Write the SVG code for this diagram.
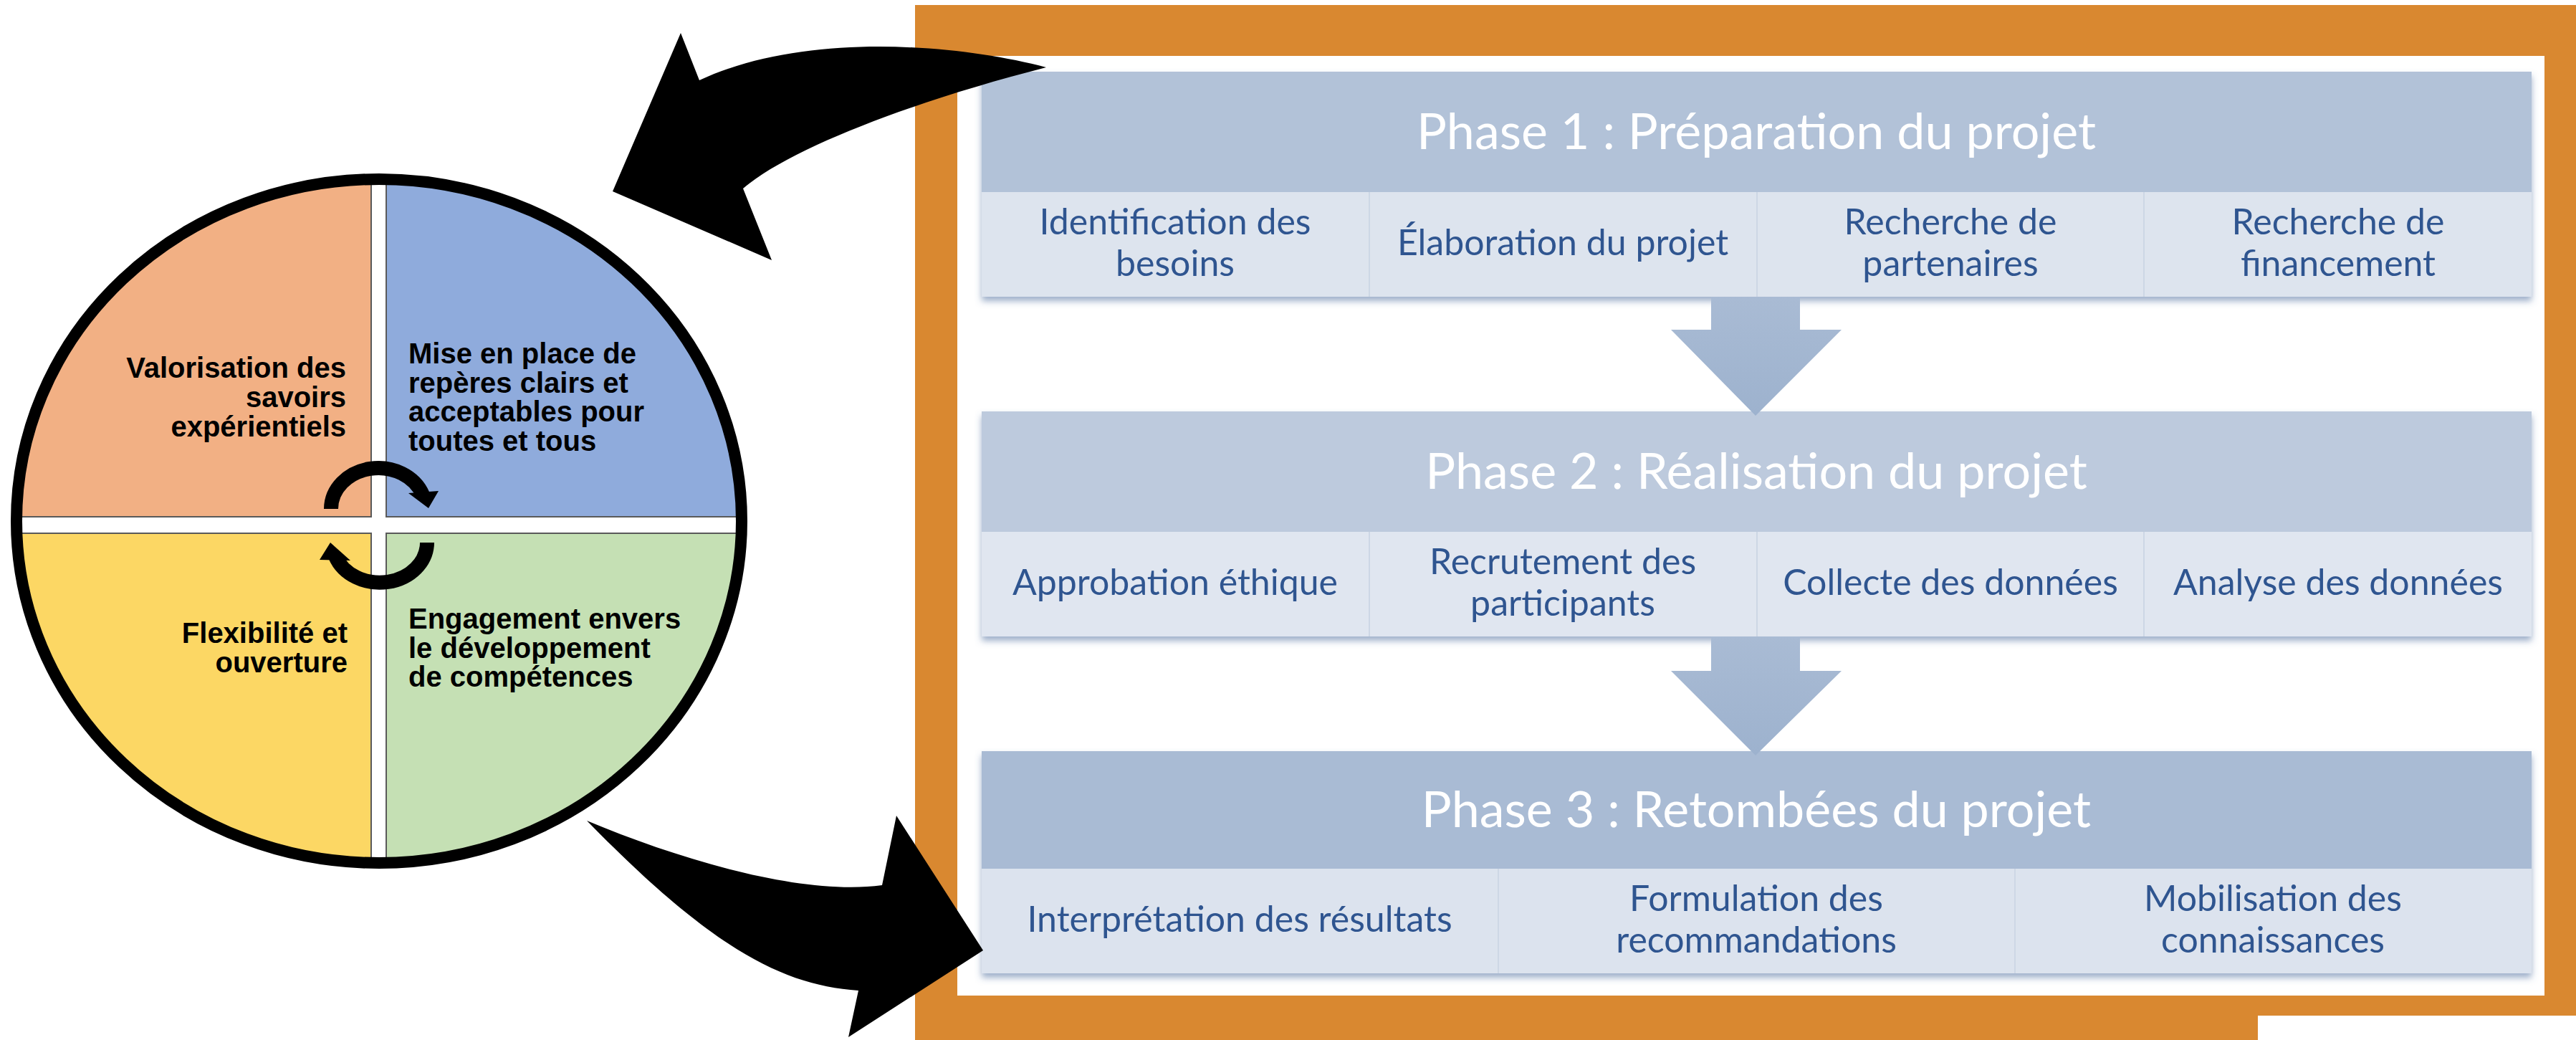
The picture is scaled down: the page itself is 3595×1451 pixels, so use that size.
<svg xmlns="http://www.w3.org/2000/svg" width="3595" height="1451" viewBox="0 0 3595 1451">
<defs>
<style>
.q{font-family:"Liberation Sans",Arial,sans-serif;font-weight:bold;font-size:40px;fill:#000}
.qe{text-anchor:end}
.t{font-family:Lato,"Liberation Sans",sans-serif;font-size:70px;fill:#fff;text-anchor:middle}
.s{font-family:Lato,"Liberation Sans",sans-serif;font-size:50px;fill:#2F5590;text-anchor:middle}
.sep{stroke:#CDD7E5;stroke-width:2}
.qr{stroke:#5a5a5a;stroke-width:2}
.arc{fill:none;stroke:#000;stroke-width:20}
</style>
<clipPath id="ell"><ellipse cx="529" cy="727" rx="506" ry="477"/></clipPath>
<filter id="sh" x="-3%" y="-20%" width="106%" height="150%"><feDropShadow dx="0" dy="6" stdDeviation="5" flood-color="#4d6d9c" flood-opacity="0.55"/></filter>
<linearGradient id="chev" x1="0" y1="0" x2="0" y2="1"><stop offset="0" stop-color="#A9BBD4"/><stop offset="1" stop-color="#9DB2CE"/></linearGradient>
</defs>
<rect width="3595" height="1451" fill="#fff"/>

<g id="frame">
<path d="M1277,7 H3595 V1417 H3151 V1451 H1277 Z M1336,78 V1389 H3551 V78 Z" fill="#D98830" fill-rule="evenodd"/>
</g>

<g id="cycle">
<g id="q-valorisation">
<rect x="-10" y="-10" width="528" height="731" fill="#F2B084" class="qr" clip-path="url(#ell)"/>
<text class="q qe" x="483"><tspan x="483" y="527">Valorisation des</tspan><tspan x="483" y="568">savoirs</tspan><tspan x="483" y="609">expérientiels</tspan></text>
</g>
<g id="q-reperes">
<rect x="539" y="-10" width="600" height="731" fill="#8FABDC" class="qr" clip-path="url(#ell)"/>
<text class="q" x="570"><tspan x="570" y="507">Mise en place de</tspan><tspan x="570" y="548">repères clairs et</tspan><tspan x="570" y="588">acceptables pour</tspan><tspan x="570" y="629">toutes et tous</tspan></text>
</g>
<g id="q-flexibilite">
<rect x="-10" y="744" width="528" height="720" fill="#FCD764" class="qr" clip-path="url(#ell)"/>
<text class="q qe" x="485"><tspan x="485" y="897">Flexibilité et</tspan><tspan x="485" y="938">ouverture</tspan></text>
</g>
<g id="q-engagement">
<rect x="539" y="744" width="600" height="720" fill="#C5E0B4" class="qr" clip-path="url(#ell)"/>
<text class="q" x="570"><tspan x="570" y="877">Engagement envers</tspan><tspan x="570" y="918">le développement</tspan><tspan x="570" y="958">de compétences</tspan></text>
</g>
<ellipse cx="529" cy="727" rx="506" ry="477" fill="none" stroke="#000" stroke-width="16"/>
<path class="arc" d="M462,710 A66,57 0 0,1 590,690.5"/>
<polygon points="570,688 612,685 598,709" fill="#000"/>
<path class="arc" d="M596,757 A66,56 0 0,1 468,776"/>
<polygon points="446,781 489,782 461,757" fill="#000"/>
</g>

<g id="phase1">
<g filter="url(#sh)">
<rect x="1370" y="100" width="2163" height="168" fill="#B2C2D8"/>
<rect x="1370" y="268" width="2163" height="146" fill="#DDE4EE"/>
</g>
<line class="sep" x1="1911" y1="268" x2="1911" y2="414"/>
<line class="sep" x1="2452" y1="268" x2="2452" y2="414"/>
<line class="sep" x1="2992" y1="268" x2="2992" y2="414"/>
<text class="t" x="2451" y="208">Phase 1 : Préparation du projet</text>
<text class="s"><tspan x="1640" y="327">Identification des</tspan><tspan x="1640" y="385">besoins</tspan></text>
<text class="s" x="2181" y="356">Élaboration du projet</text>
<text class="s"><tspan x="2722" y="327">Recherche de</tspan><tspan x="2722" y="385">partenaires</tspan></text>
<text class="s"><tspan x="3263" y="327">Recherche de</tspan><tspan x="3263" y="385">financement</tspan></text>
</g>

<g id="phase2">
<g filter="url(#sh)">
<rect x="1370" y="574" width="2163" height="168" fill="#BDCADD"/>
<rect x="1370" y="742" width="2163" height="146" fill="#E0E6F0"/>
</g>
<line class="sep" x1="1911" y1="742" x2="1911" y2="888"/>
<line class="sep" x1="2452" y1="742" x2="2452" y2="888"/>
<line class="sep" x1="2992" y1="742" x2="2992" y2="888"/>
<text class="t" x="2451" y="682">Phase 2 : Réalisation du projet</text>
<text class="s" x="1640" y="830">Approbation éthique</text>
<text class="s"><tspan x="2181" y="801">Recrutement des</tspan><tspan x="2181" y="859">participants</tspan></text>
<text class="s" x="2722" y="830">Collecte des données</text>
<text class="s" x="3263" y="830">Analyse des données</text>
</g>

<g id="phase3">
<g filter="url(#sh)">
<rect x="1370" y="1048" width="2163" height="164" fill="#A9BBD4"/>
<rect x="1370" y="1212" width="2163" height="146" fill="#DCE3EE"/>
</g>
<line class="sep" x1="2091" y1="1212" x2="2091" y2="1358"/>
<line class="sep" x1="2812" y1="1212" x2="2812" y2="1358"/>
<text class="t" x="2451" y="1154">Phase 3 : Retombées du projet</text>
<text class="s" x="1730" y="1300">Interprétation des résultats</text>
<text class="s"><tspan x="2451" y="1271">Formulation des</tspan><tspan x="2451" y="1329">recommandations</tspan></text>
<text class="s"><tspan x="3172" y="1271">Mobilisation des</tspan><tspan x="3172" y="1329">connaissances</tspan></text>
</g>

<g id="connectors">
<path d="M2388,414 H2512 V460 H2570 L2450,580 L2332,460 H2388 Z" fill="url(#chev)"/>
<path d="M2388,888 H2512 V936 H2570 L2450,1054 L2332,936 H2388 Z" fill="url(#chev)"/>
<path d="M1460,94 C1330,60 1120,45 976,112 L950,46 L855,267 L1077,363 L1037,263 C1105,205 1280,140 1460,94 Z" fill="#000"/>
<path d="M819,1145 C950,1200 1120,1250 1231,1235 L1251,1138 L1372,1326 L1184,1447 L1198,1382 C1090,1375 990,1320 819,1145 Z" fill="#000"/>
</g>
</svg>
